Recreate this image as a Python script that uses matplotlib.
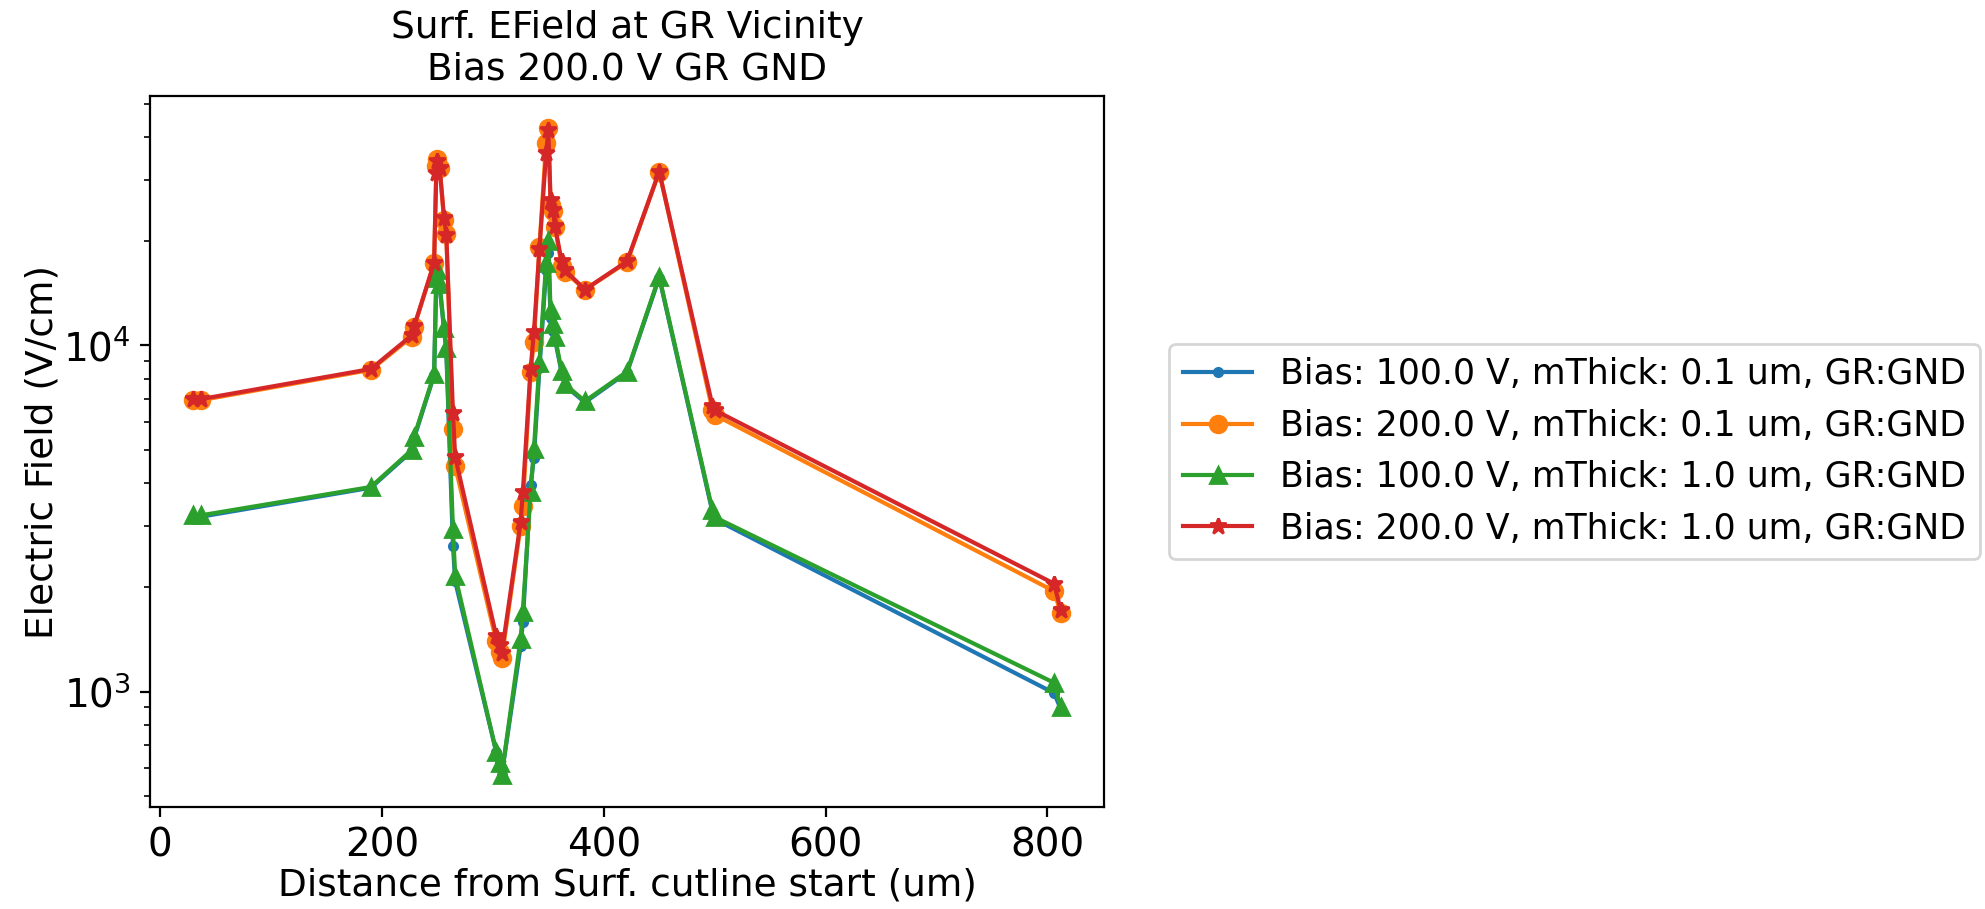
import numpy as np
import matplotlib
matplotlib.use("Agg")
import matplotlib.pyplot as plt
from matplotlib.ticker import MultipleLocator

plt.rcParams['font.size'] = 12.5

# cutline positions (um)
dist = [30, 37, 190, 227, 229, 247, 249, 250, 252, 256, 258, 264, 266,
        303, 306, 308, 325, 327, 334, 337, 342, 348, 350, 352, 354, 356,
        362, 365, 383, 421, 450, 498, 500, 806, 812]

# electric field (V/cm)
ef_100_01 = [3200, 3200, 3880, 4950, 5400, 8200, 15500, 16300, 14800, 11100, 9700,
             2640, 2080, 670, 620, 575, 1350, 1590, 3940, 4740, 8600, 16500, 18500,
             12000, 11000, 10400, 8350, 7650, 6850, 8350, 15700, 3300, 3150, 990, 890]
ef_200_01 = [6950, 6950, 8500, 10600, 11300, 17300, 33000, 34500, 32600, 23000, 21000,
             5730, 4480, 1400, 1300, 1250, 3010, 3440, 8400, 10200, 19300, 38400, 42400,
             25500, 24500, 22000, 17000, 16300, 14500, 17400, 31800, 6500, 6300, 1950, 1690]
ef_100_10 = [3230, 3230, 3900, 4990, 5450, 8250, 15700, 16500, 15000, 11200, 9800,
             2950, 2160, 670, 620, 575, 1420, 1700, 3760, 5010, 8900, 17300, 20000,
             12700, 11500, 10600, 8430, 7720, 6900, 8400, 15800, 3340, 3190, 1060, 900]
ef_200_10 = [7000, 7000, 8550, 10700, 11350, 17300, 31500, 34000, 32600, 23400, 20900,
             6400, 4760, 1450, 1360, 1290, 3080, 3760, 8530, 10900, 19000, 35900, 41900,
             26400, 24700, 22100, 17500, 16500, 14500, 17500, 31800, 6700, 6500, 2050, 1720]

labels = ['Bias: 100.0 V, mThick: 0.1 um, GR:GND',
          'Bias: 200.0 V, mThick: 0.1 um, GR:GND',
          'Bias: 100.0 V, mThick: 1.0 um, GR:GND',
          'Bias: 200.0 V, mThick: 1.0 um, GR:GND']

fig = plt.figure(figsize=(9.925, 4.545), dpi=200)
ax = fig.add_axes([0.0756, 0.1122, 0.4806, 0.7822])

ax.plot(dist, ef_100_01, marker='.', label=labels[0])
ax.plot(dist, ef_200_01, marker='o', label=labels[1])
ax.plot(dist, ef_100_10, marker='^', label=labels[2])
ax.plot(dist, ef_200_10, marker='*', label=labels[3])

ax.set_yscale('log')
ax.xaxis.set_major_locator(MultipleLocator(200))
ax.tick_params(labelsize=14)
ax.set_xlabel('Distance from Surf. cutline start (um)', fontsize=13.5, labelpad=1)
ax.set_ylabel('Electric Field (V/cm)', fontsize=13.5, labelpad=1)
ax.set_title('Surf. EField at GR Vicinity\nBias 200.0 V GR GND', fontsize=13.5)
ax.legend(loc='center left', bbox_to_anchor=(1.05, 0.5), fontsize=12.5)

fig.savefig('out.png', dpi=200)
